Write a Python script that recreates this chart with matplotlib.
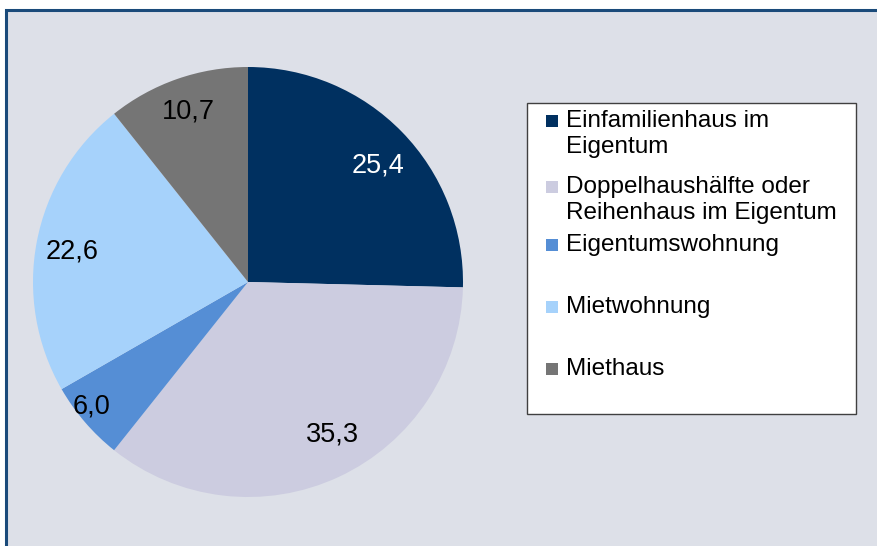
import matplotlib
matplotlib.use('Agg')
import matplotlib.pyplot as plt
import numpy as np
from matplotlib.patches import Rectangle

plt.rcParams['font.family'] = ['Liberation Sans', 'DejaVu Sans']

# Data
categories = ['Einfamilienhaus im\nEigentum',
              'Doppelhaushälfte oder\nReihenhaus im Eigentum',
              'Eigentumswohnung',
              'Mietwohnung',
              'Miethaus']
values = [25.4, 35.3, 6.0, 22.6, 10.7]
colors = ['#003060', '#cccce0', '#558ed5', '#a6d2fb', '#757575']
label_colors = ['white', 'black', 'black', 'black', 'black']
# placement of each value label: fraction of radius, angle shift (deg)
label_dist = [0.81, 0.81, 0.93, 0.83, 0.84]
label_shift = [-2.5, 4.0, -2.0, 1.0, 0.0]

W, H = 878, 546
fig = plt.figure(figsize=(W / 100, H / 100), dpi=100)
fig.patch.set_facecolor('white')

def px(x, y):
    # pixel (from top-left) -> figure fraction
    return x / W, 1 - y / H

# chart area background with border (cropped right/bottom)
bg = Rectangle(px(6, 560), (W + 20) / W, 550 / H, transform=fig.transFigure,
               facecolor='#dde0e8', edgecolor='#1a4a7a', linewidth=2.2,
               zorder=-1)
fig.patches.append(bg)

# pie
r = 215
cx, cy = 248, 282
ax = fig.add_axes([(cx - r) / W, (H - cy - r) / H, 2 * r / W, 2 * r / H])
ax.set_facecolor('none')
wedges, texts, autotexts = ax.pie(values, colors=colors, startangle=90,
                                  counterclock=False, radius=1,
                                  autopct=lambda p: ('%.1f' % p).replace('.', ','),
                                  pctdistance=1.0,
                                  textprops={'fontsize': 19.5})
for w, t, c, d, s in zip(wedges, autotexts, label_colors, label_dist, label_shift):
    t.set_color(c)
    ang = np.deg2rad((w.theta1 + w.theta2) / 2 + s)
    t.set_position((d * np.cos(ang), d * np.sin(ang)))
ax.set_xlim(-1, 1)
ax.set_ylim(-1, 1)
ax.set_aspect('equal')
ax.axis('off')

# legend box (drawn by hand to mimic the original layout)
x0, y0, x1, y1 = 527, 103, 856, 414
box = Rectangle(px(x0, y1), (x1 - x0) / W, (y1 - y0) / H,
                transform=fig.transFigure, facecolor='white',
                edgecolor='#404040', linewidth=1.0, zorder=1)
fig.patches.append(box)

entry_y = [121, 187, 245, 307, 369]
line_h = 26
for lab, col, ey in zip(categories, colors, entry_y):
    fig.patches.append(Rectangle(px(546, ey + 6), 12 / W, 12 / H,
                                 transform=fig.transFigure,
                                 facecolor=col, edgecolor='none', zorder=2))
    for i, line in enumerate(lab.split('\n')):
        fx, fy = px(566, ey + i * line_h)
        fig.text(fx, fy, line, fontsize=17.5, va='center', ha='left',
                 color='black', zorder=3)

fig.savefig('out.png', dpi=100, facecolor=fig.get_facecolor())
